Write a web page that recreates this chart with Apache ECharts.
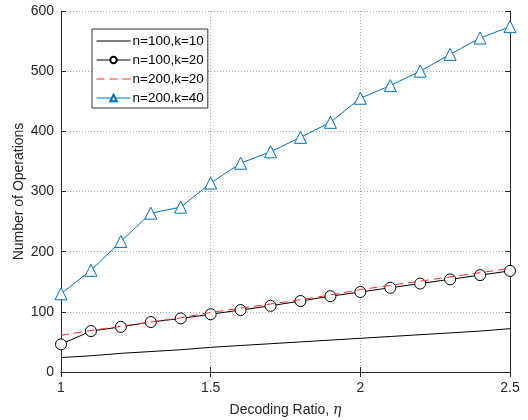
<!DOCTYPE html>
<html>
<head>
<meta charset="utf-8">
<script src="https://cdn.jsdelivr.net/npm/echarts@6/dist/echarts.min.js"></script>
<style>
  html, body { margin: 0; padding: 0; background: #fff; }
  #chart { width: 528px; height: 420px; }
</style>
</head>
<body>
<div id="chart"></div>
<script>
// decoding ratio samples
const ratios = [1, 1.1, 1.2, 1.3, 1.4, 1.5, 1.6, 1.7, 1.8, 1.9, 2, 2.1, 2.2, 2.3, 2.4, 2.5]

// values
const n100k10 = [24, 27, 31, 34, 37, 41, 44, 47, 50, 53, 56, 59, 62, 65, 68, 72]
const n100k20 = [46, 68, 75, 83, 89, 96, 103, 110, 118, 126, 133, 140, 147, 154, 161, 168]
const n200k20 = [61, 69, 76, 83, 90, 99, 106, 113, 120, 128, 137, 144, 151, 158, 165, 172]
const n200k40 = [130, 169, 217, 264, 274, 314, 347, 366, 390, 415, 455, 476, 500, 528, 555, 574]

const seriesNames = ['n=100,k=10', 'n=100,k=20', 'n=200,k=20', 'n=200,k=40']

const pairs = vals => vals.map((v, i) => [ratios[i], v])

const chart = echarts.init(document.getElementById('chart'))

const font = 'Arial, Liberation Sans, sans-serif'
const axisColor = '#262626'

// top/right axes only carry the inside ticks of the box
const boxAxis = {
    axisLine: { show: true, lineStyle: { color: axisColor, width: 1 } },
    axisTick: { show: true, inside: true, length: 5, lineStyle: { color: axisColor } },
    axisLabel: { show: false },
    splitLine: { show: false }
}

// no marker in the legend for plain lines
const hiddenMark = { color: 'rgba(0,0,0,0)', borderWidth: 0, opacity: 0 }

const options = {
    animation: false,
    backgroundColor: '#fff',
    grid: { left: 61, right: 18, top: 11, bottom: 48, containLabel: false, outerBoundsMode: 'none' },
    legend: {
        orient: 'vertical',
        left: 92,
        top: 29,
        padding: [5, 4, 3, 4],
        itemGap: 5,
        itemWidth: 34,
        itemHeight: 8,
        backgroundColor: '#fff',
        borderColor: '#333',
        borderWidth: 1,
        borderRadius: 0,
        lineStyle: { width: 1 },
        textStyle: { fontFamily: font, fontSize: 13.5, color: '#000', padding: [0, 0, 0, -3] },
        data: [
            { name: seriesNames[0], itemStyle: hiddenMark },
            { name: seriesNames[1] },
            { name: seriesNames[2], itemStyle: hiddenMark },
            { name: seriesNames[3] }
        ]
    },
    xAxis: [
        {
            type: 'value',
            min: 1,
            max: 2.5,
            interval: 0.5,
            name: 'Decoding Ratio, {i|η}',
            nameLocation: 'middle',
            nameGap: 31,
            nameMoveOverlap: false,
            nameTextStyle: {
                fontFamily: font, fontSize: 14, color: axisColor,
                rich: { i: { fontFamily: 'DejaVu Serif, serif', fontSize: 14, fontStyle: 'italic', color: axisColor } }
            },
            axisLine: { show: true, onZero: false, lineStyle: { color: axisColor } },
            axisTick: { show: true, inside: true, length: 5, lineStyle: { color: axisColor } },
            axisLabel: { fontFamily: font, fontSize: 14, color: axisColor, margin: 9 },
            splitLine: { show: true, lineStyle: { type: [1, 2], color: '#aaa' } }
        },
        Object.assign({ type: 'value', position: 'top', min: 1, max: 2.5, interval: 0.5 }, boxAxis)
    ],
    yAxis: [
        {
            type: 'value',
            min: 0,
            max: 600,
            interval: 100,
            name: 'Number of Operations',
            nameLocation: 'middle',
            nameGap: 35,
            nameMoveOverlap: false,
            nameTextStyle: { fontFamily: font, fontSize: 14, color: axisColor },
            axisLine: { show: true, onZero: false, lineStyle: { color: axisColor } },
            axisTick: { show: true, inside: true, length: 5, lineStyle: { color: axisColor } },
            axisLabel: { fontFamily: font, fontSize: 14, color: axisColor, margin: 7 },
            splitLine: { show: true, lineStyle: { type: [1, 2], color: '#aaa' } }
        },
        Object.assign({ type: 'value', position: 'right', min: 0, max: 600, interval: 100 }, boxAxis)
    ],
    series: [
        {
            name: seriesNames[0],
            type: 'line',
            data: pairs(n100k10),
            symbol: 'none',
            lineStyle: { color: '#000', width: 1 },
            itemStyle: { color: '#000' },
            z: 3
        },
        {
            name: seriesNames[1],
            type: 'line',
            data: pairs(n100k20),
            symbol: 'circle',
            symbolSize: 11,
            lineStyle: { color: '#000', width: 1 },
            itemStyle: { color: '#fff', borderColor: '#000', borderWidth: 1 },
            z: 4
        },
        {
            name: seriesNames[2],
            type: 'line',
            data: pairs(n200k20),
            symbol: 'none',
            lineStyle: { color: '#ff2a2a', width: 1, type: [8, 5] },
            itemStyle: { color: '#ff2a2a' },
            z: 5
        },
        {
            name: seriesNames[3],
            type: 'line',
            data: pairs(n200k40),
            symbol: 'triangle',
            symbolSize: 12,
            lineStyle: { color: '#0072BD', width: 1 },
            itemStyle: { color: '#fff', borderColor: '#0072BD', borderWidth: 1 },
            z: 6
        }
    ]
}

chart.setOption(options)
</script>
</body>
</html>
